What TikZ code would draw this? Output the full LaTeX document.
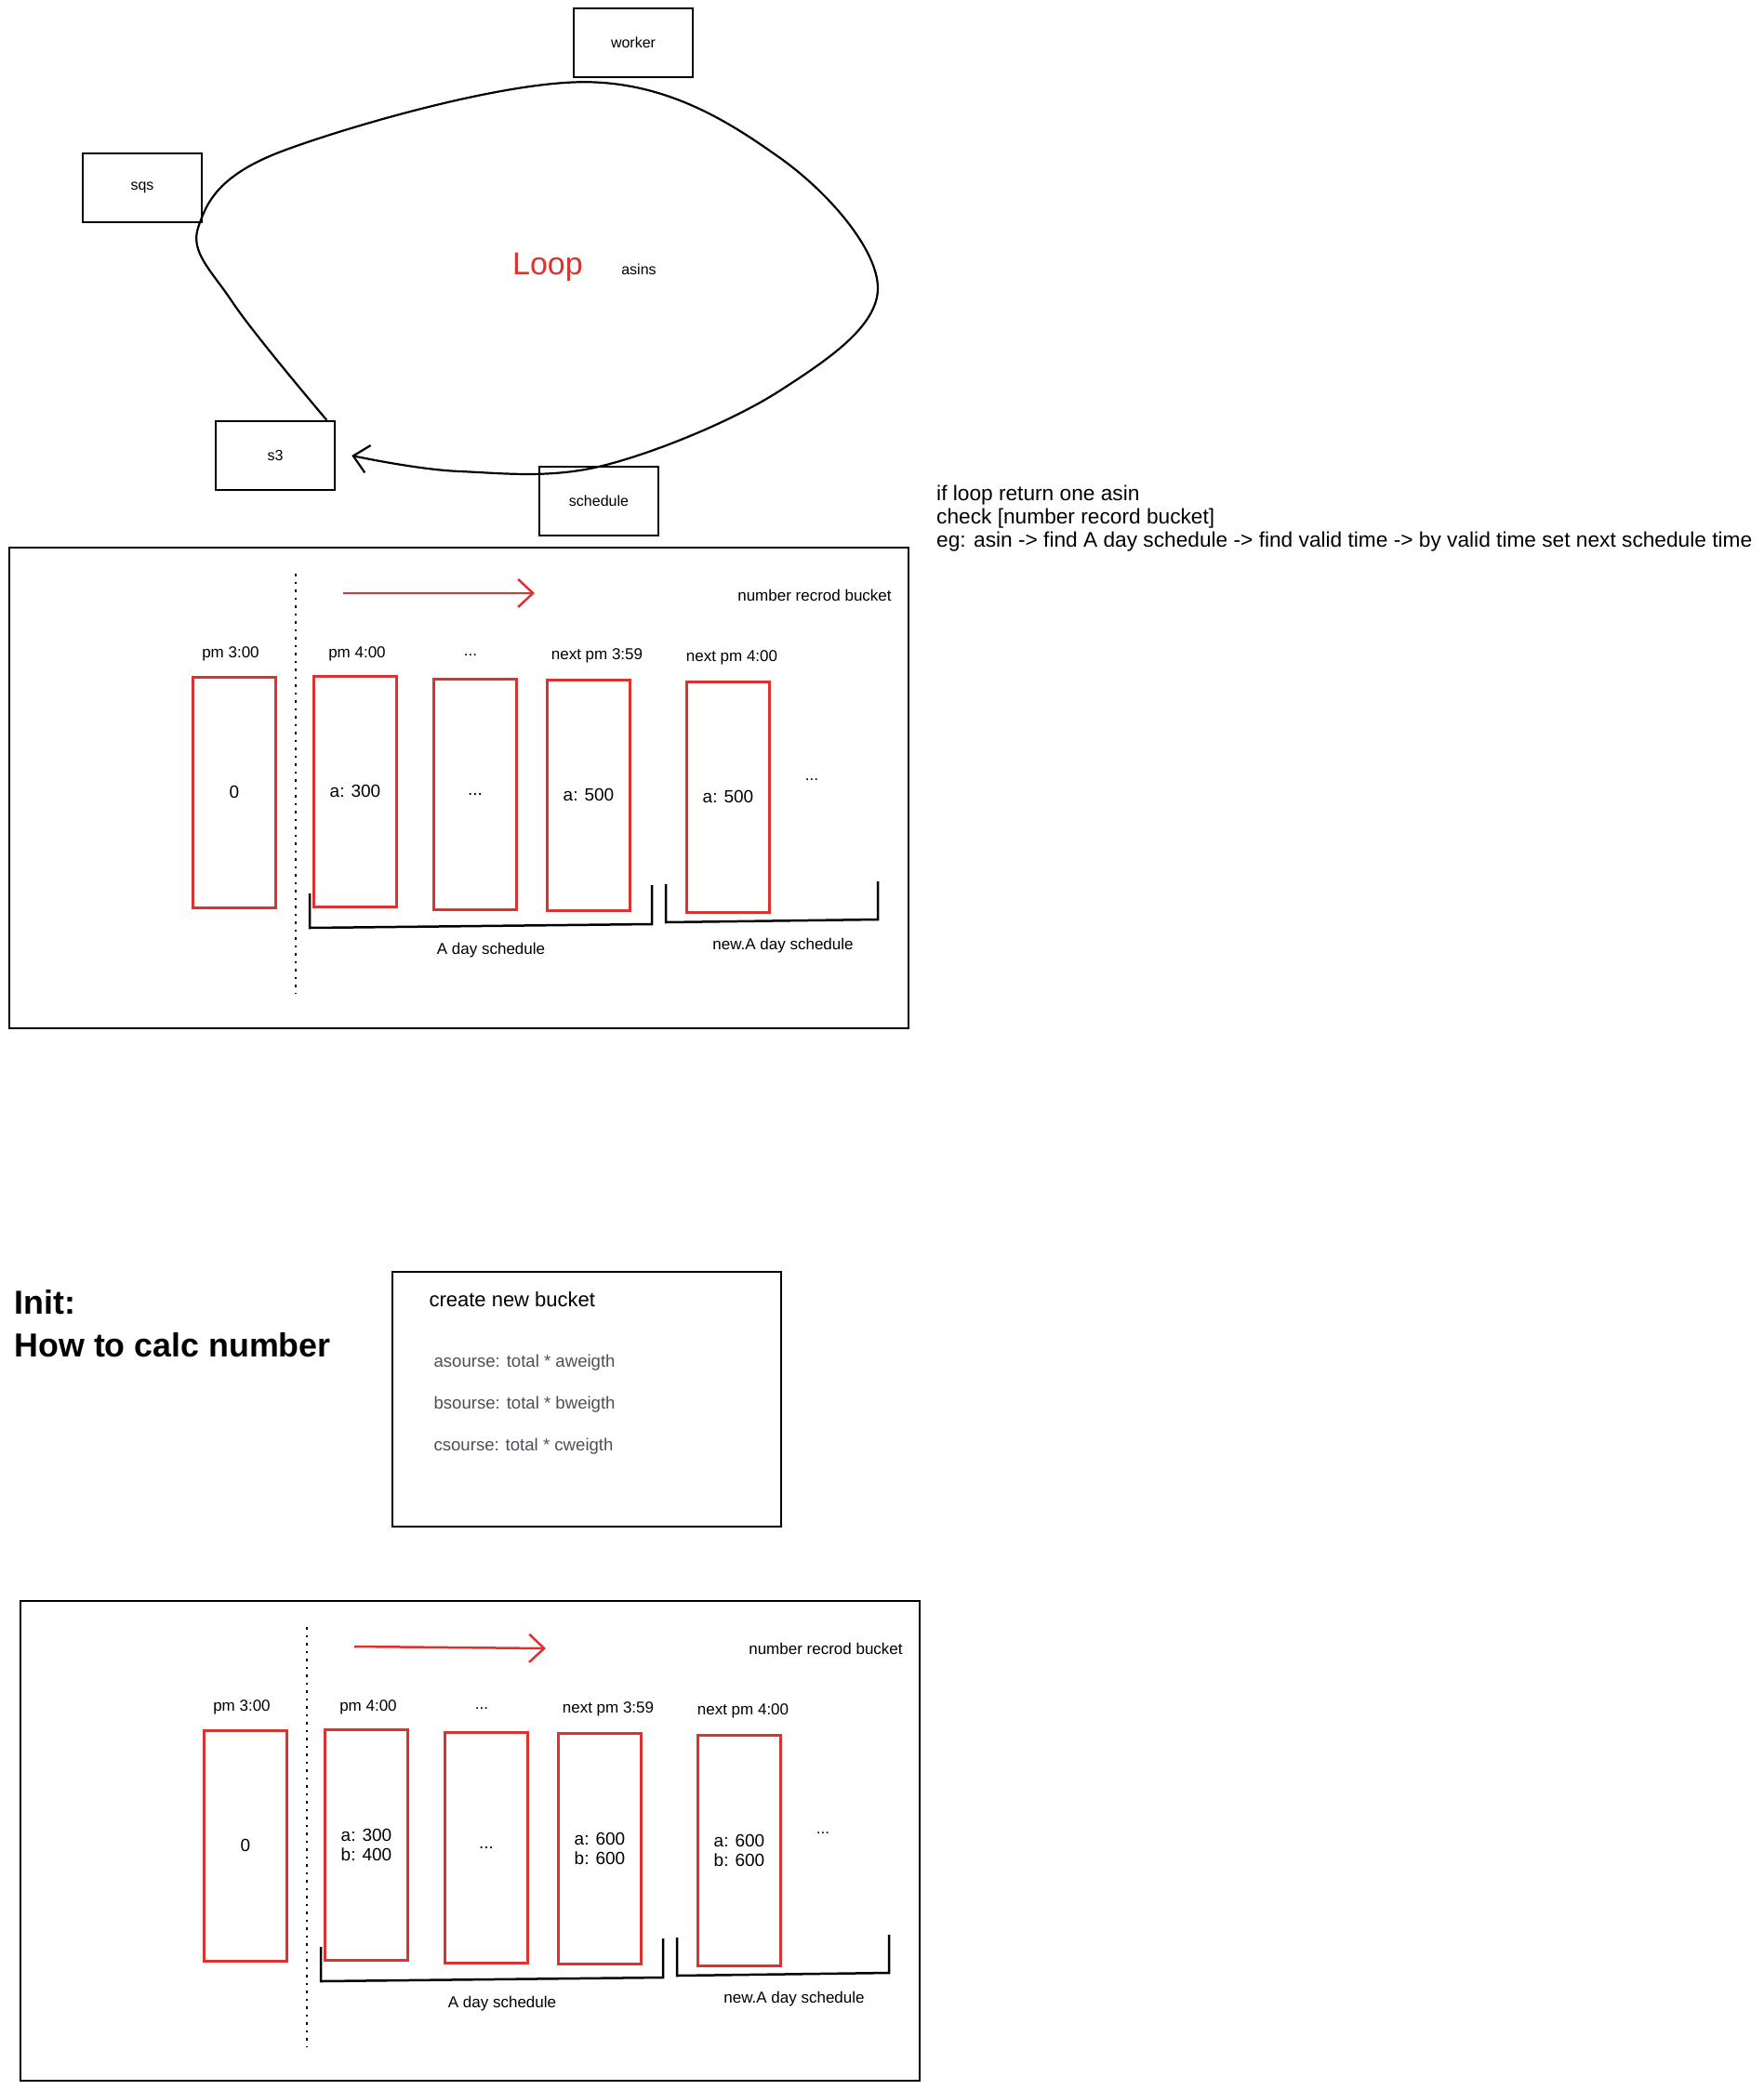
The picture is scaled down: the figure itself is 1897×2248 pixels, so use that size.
\documentclass[tikz,border=0pt]{standalone}
\usepackage{fontspec}
\setmainfont{Liberation Sans}
\usetikzlibrary{arrows.meta}
\definecolor{sketchred}{HTML}{E03131}
\definecolor{notegray}{HTML}{495057}
\newcommand{\fsz}[2]{\fontsize{#1}{#2}\selectfont}
\tikzset{
  svcbox/.style={draw, line width=2.5pt, minimum width=128pt, minimum height=74pt, font=\fsz{16}{19}},
  bucket/.style={draw=sketchred, line width=3pt, minimum width=89pt, minimum height=248pt, align=center, font=\fsz{19}{21}},
  timelbl/.style={font=\fsz{17}{20}},
  panel/.style={draw, line width=2.5pt},
  bracketline/.style={draw, line width=2.5pt},
  loopline/.style={line width=2.2pt, -{Straight Barb[length=16pt,width=30pt]}},
  flowarrow/.style={draw=sketchred, line width=2.5pt, -{Straight Barb[length=16pt,width=30pt]}},
}
\begin{document}
\begin{tikzpicture}[x=1pt,y=-1pt]
\useasboundingbox (0,0) rectangle (1897,2248);
\node[svcbox] (worker) at (681,46) {worker};
\node[svcbox] (sqs) at (153,202) {sqs};
\node[svcbox] (s3) at (296,490) {s3};
\node[svcbox] (schedule) at (644,539) {schedule};
\node[text=sketchred, font=\fsz{34}{40}] (loop) at (589,287) {Loop};
\node[font=\fsz{16}{19}] (asins) at (687,290) {asins};
\coordinate (loopE) at (944,310);
\path[draw,loopline] plot[smooth, tension=0.6] coordinates {([xshift=-10pt]s3.north east)
  (250,325) ([xshift=-5pt,yshift=-4pt]sqs.south east) (305,162)
  ([xshift=-49pt,yshift=-4pt]worker.south) (839,170) (loopE) (839,420)
  ([xshift=5pt]schedule.north) (494,507) ([xshift=17pt]s3.east)};
\node[anchor=north west, align=left, inner sep=0pt, font=\fsz{22.7}{25}] (note) at (1007,522)
  {if loop return one asin\\check [number record bucket]\\eg: asin -> find A day schedule -> find valid time -> by valid time set next schedule time};
\begin{scope}
\path[panel] (10,589) rectangle (977,1106);
\path[draw, line width=2.5pt, dash pattern=on 2.5pt off 6pt] (318,617) -- (318,1068);
\coordinate (flowS) at (369,638);
\coordinate (flowE) at (575,638);
\path[flowarrow] (flowS) -- (flowE);
\node[timelbl] (title) at (876,640) {number recrod bucket};
\node[bucket] (b0) at (252,852) {0};
\node[bucket] (b1) at (382,851) {a: 300};
\node[bucket] (b2) at (511,854) {...};
\node[bucket] (b3) at (633,855) {a: 500};
\node[bucket] (b4) at (783,857) {a: 500};
\node[timelbl] (t0) at (248,703) {pm 3:00};
\node[timelbl] (t1) at (384,703) {pm 4:00};
\node[timelbl] (t2) at (506,705) {...};
\node[timelbl] (t3) at (642,705) {next pm 3:59};
\node[timelbl] (t4) at (787,707) {next pm 4:00};
\node[timelbl] (more) at (873,839) {...};
\path[bracketline] (333,961) -- (333,998) -- (701,994) -- (701,952);
\path[bracketline] (716,951) -- (716,992) -- (944,989) -- (944,948);
\node[timelbl] (day) at (528,1022) {A day schedule};
\node[timelbl] (newday) at (842,1017) {new.A day schedule};
\end{scope}
\node[anchor=west, font=\bfseries\fsz{35.8}{40}] (init) at (12,1401) {Init:};
\node[anchor=west, font=\bfseries\fsz{35.8}{40}] (calc) at (12,1447) {How to calc number};
\node[panel, minimum width=418pt, minimum height=274pt] (create) at (631,1505) {};
\node[anchor=west, font=\fsz{22}{26}] (createtitle) at (458,1398) {create new bucket};
\node[anchor=west, text=notegray, font=\fsz{18.6}{22}] (la) at (463,1466) {asourse: total * aweigth};
\node[anchor=west, text=notegray, font=\fsz{18.6}{22}] (lb) at (463,1511) {bsourse: total * bweigth};
\node[anchor=west, text=notegray, font=\fsz{18.6}{22}] (lc) at (463,1556) {csourse: total * cweigth};
\begin{scope}[shift={(12,1133)}]
\path[panel] (10,589) rectangle (977,1105);
\path[draw, line width=2.5pt, dash pattern=on 2.5pt off 6pt] (318,617) -- (318,1068);
\coordinate (flowS) at (369,638);
\coordinate (flowE) at (575,640);
\path[flowarrow] (flowS) -- (flowE);
\node[timelbl] (title) at (876,640) {number recrod bucket};
\node[bucket] (b0) at (252,852) {0};
\node[bucket] (b1) at (382,851) {a: 300\\b: 400};
\node[bucket] (b2) at (511,854) {...};
\node[bucket] (b3) at (633,855) {a: 600\\b: 600};
\node[bucket] (b4) at (783,857) {a: 600\\b: 600};
\node[timelbl] (t0) at (248,703) {pm 3:00};
\node[timelbl] (t1) at (384,703) {pm 4:00};
\node[timelbl] (t2) at (506,705) {...};
\node[timelbl] (t3) at (642,705) {next pm 3:59};
\node[timelbl] (t4) at (787,707) {next pm 4:00};
\node[timelbl] (more) at (873,839) {...};
\path[bracketline] (333,961) -- (333,998) -- (701,994) -- (701,952);
\path[bracketline] (716,951) -- (716,992) -- (944,989) -- (944,948);
\node[timelbl] (day) at (528,1022) {A day schedule};
\node[timelbl] (newday) at (842,1017) {new.A day schedule};
\end{scope}
\end{tikzpicture}
\end{document}
